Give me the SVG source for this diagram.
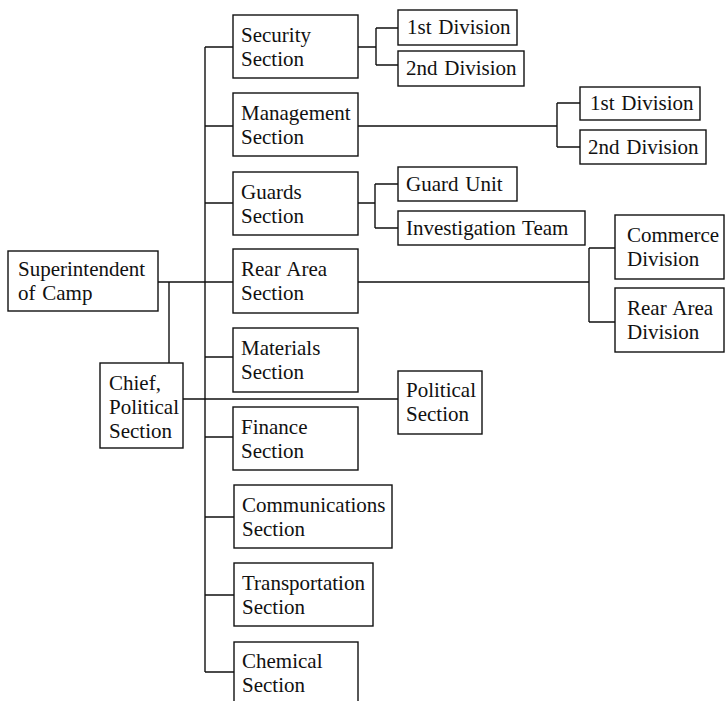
<svg xmlns="http://www.w3.org/2000/svg" width="725" height="701" viewBox="0 0 725 701">
<style>
rect{fill:#fff;stroke:#111;stroke-width:1.4}
text{font-family:"Liberation Serif","Times New Roman",serif;font-size:21px;fill:#111;word-spacing:1.5px}
#connectors path{fill:none;stroke:#111;stroke-width:1.4}
</style>
<rect x="0" y="0" width="725" height="701" style="stroke:none"/>
<g id="connectors">
<path d="M205 47V672"/>
<path d="M205 47H233M205 126H233M205 203H233M158 282H233M205 357H233M205 437H233M205 517H234M205 595H234M205 672H234"/>
<path d="M169 282V363M183 399H398"/>
<path d="M358 47H376M376 28V65M376 28H398M376 65H398"/>
<path d="M358 126H557M557 103V147M557 103H580M557 147H580"/>
<path d="M358 203H375M375 184V228M375 184H398M375 228H398"/>
<path d="M358 282H589M589 248V322M589 248H615M589 322H615"/>
</g>
<g id="superintendent"><rect x="8" y="251" width="150" height="60"/><text x="18" y="276">Superintendent</text><text x="18" y="300">of Camp</text></g>
<g id="chief"><rect x="100" y="363" width="83" height="85"/><text x="109" y="390">Chief,</text><text x="109" y="414">Political</text><text x="109" y="438">Section</text></g>
<g id="security"><rect x="233" y="15" width="125" height="63"/><text x="241" y="42">Security</text><text x="241" y="66">Section</text></g>
<g id="management"><rect x="233" y="93" width="125" height="63"/><text x="241" y="120">Management</text><text x="241" y="144">Section</text></g>
<g id="guards"><rect x="233" y="172" width="125" height="63"/><text x="241" y="199">Guards</text><text x="241" y="223">Section</text></g>
<g id="reararea"><rect x="233" y="249" width="125" height="64"/><text x="241" y="276">Rear Area</text><text x="241" y="300">Section</text></g>
<g id="materials"><rect x="233" y="328" width="125" height="64"/><text x="241" y="355">Materials</text><text x="241" y="379">Section</text></g>
<g id="finance"><rect x="233" y="407" width="125" height="63"/><text x="241" y="434">Finance</text><text x="241" y="458">Section</text></g>
<g id="communications"><rect x="234" y="485" width="158" height="63"/><text x="242" y="512">Communications</text><text x="242" y="536">Section</text></g>
<g id="transportation"><rect x="234" y="563" width="139" height="63"/><text x="242" y="590">Transportation</text><text x="242" y="614">Section</text></g>
<g id="chemical"><rect x="234" y="642" width="124" height="66"/><text x="242" y="668">Chemical</text><text x="242" y="692">Section</text></g>
<g id="sec-div1"><rect x="398" y="10" width="119" height="35"/><text x="407" y="34">1st Division</text></g>
<g id="sec-div2"><rect x="398" y="51" width="126" height="35"/><text x="406" y="75">2nd Division</text></g>
<g id="mgmt-div1"><rect x="580" y="87" width="120" height="33"/><text x="590" y="110">1st Division</text></g>
<g id="mgmt-div2"><rect x="580" y="130" width="126" height="34"/><text x="588" y="154">2nd Division</text></g>
<g id="guard-unit"><rect x="398" y="167" width="119" height="34"/><text x="406" y="191">Guard Unit</text></g>
<g id="investigation"><rect x="398" y="211" width="187" height="34"/><text x="406" y="235">Investigation Team</text></g>
<g id="commerce"><rect x="615" y="215" width="109" height="64"/><text x="627" y="242">Commerce</text><text x="627" y="266">Division</text></g>
<g id="reararea-div"><rect x="615" y="288" width="109" height="64"/><text x="627" y="315">Rear Area</text><text x="627" y="339">Division</text></g>
<g id="political"><rect x="398" y="371" width="84" height="63"/><text x="406" y="397">Political</text><text x="406" y="421">Section</text></g>
</svg>
